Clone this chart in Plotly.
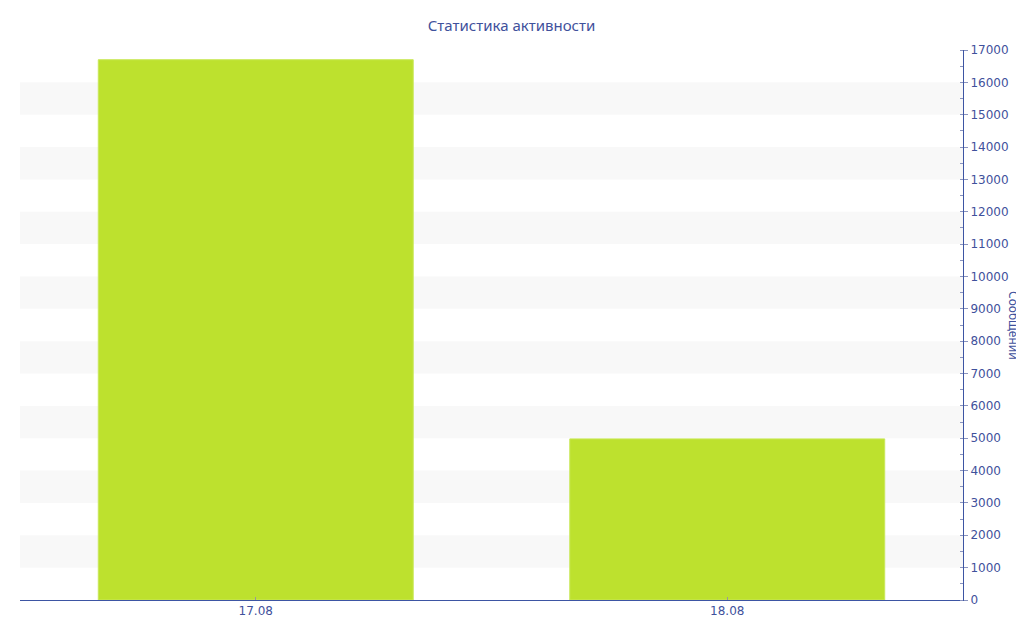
import plotly.graph_objs as go

days = ['17.08', '18.08']
messages = [16700, 4980]

band_starts = [1000, 3000, 5000, 7000, 9000, 11000, 13000, 15000]
band_size = 1000

text_color = '#3f519c'
axis_color = '#3d55a3'

fig = go.Figure(
    go.Bar(
        x=days,
        y=messages,
        name='',
        marker=dict(color='#bde12e', line=dict(color='#c9e85a', width=1)),
        hovertemplate='%{x}: %{y}'
    )
)

# alternating light bands across the plot
for start in band_starts:
    fig.add_shape(
        dict(
            type='rect',
            xref='paper',
            yref='y',
            x0=0,
            x1=1,
            y0=start,
            y1=start + band_size,
            fillcolor='#f8f8f8',
            line=dict(width=0),
            layer='below'
        )
    )

# axis title on the right, reading top to bottom
fig.add_annotation(
    text='Сообщений',
    xref='paper',
    yref='paper',
    x=1.0,
    xanchor='center',
    xshift=51,
    y=0.5,
    yanchor='middle',
    showarrow=False,
    textangle=90,
    font=dict(family='Noto Sans', size=12, color=text_color)
)

fig.update_layout(
    title=dict(
        text='Статистика активности',
        x=0.4917,
        y=0.98,
        xanchor='center',
        yanchor='top',
        font=dict(family='Noto Sans', size=15, color=text_color)
    ),
    width=1024,
    height=640,
    margin=dict(l=12, r=69, t=42, b=48),
    plot_bgcolor='white',
    paper_bgcolor='white',
    showlegend=False,
    bargap=0.332,
    font=dict(family='DejaVu Sans', size=12, color=text_color),
    xaxis=dict(
        showgrid=False,
        showline=True,
        linecolor=axis_color,
        linewidth=1,
        ticks='inside',
        ticklen=3,
        tickcolor='#999999',
        zeroline=False
    ),
    yaxis=dict(
        side='right',
        range=[0, 17000],
        tick0=0,
        dtick=1000,
        tickformat='d',
        showgrid=False,
        zeroline=False,
        showline=True,
        linecolor=axis_color,
        linewidth=1,
        ticks='outside',
        ticklen=4,
        tickcolor='#8a94bf',
        minor=dict(
            dtick=500,
            ticks='inside',
            ticklen=3,
            tickcolor='#8a94bf',
            showgrid=False
        )
    )
)

fig.write_html('out.html')
